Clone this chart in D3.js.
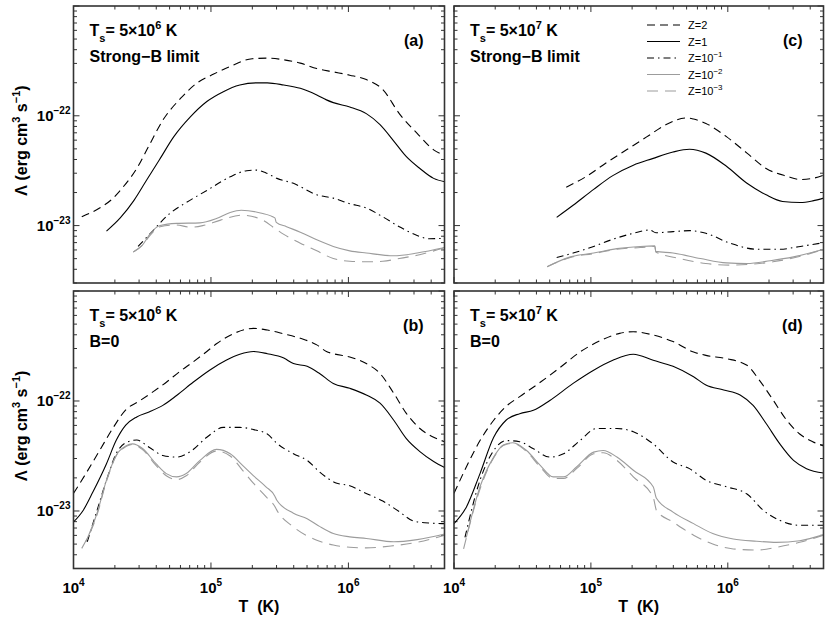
<!DOCTYPE html>
<html><head><meta charset="utf-8">
<script src="https://cdn.jsdelivr.net/npm/d3@7"></script>
<style>
body{margin:0;background:#fff}
svg{display:block}
text{font-family:"Liberation Sans",Arial,Helvetica,sans-serif}
</style>
</head><body>
<svg id="chart" width="830" height="619"></svg>
<script>
// ---- data: pairs of [log10 T (K), log10 Lambda (erg cm^3 s^-1)] ----
// Panel (a): Ts = 5e6 K, strong-B limit
const a_Z2 = [[4.06,-22.92],[4.19,-22.84],[4.28,-22.76],[4.36,-22.65],[4.46,-22.48],[4.55,-22.27],[4.65,-22.04],[4.78,-21.84],[4.90,-21.70],[5.02,-21.62],[5.14,-21.55],[5.30,-21.48],[5.41,-21.475],[5.53,-21.49],[5.65,-21.52],[5.77,-21.57],[5.89,-21.60],[6.01,-21.63],[6.13,-21.67],[6.25,-21.76],[6.37,-21.98],[6.50,-22.16],[6.62,-22.31],[6.70,-22.36]];
const a_Z1 = [[4.24,-23.05],[4.34,-22.93],[4.44,-22.77],[4.53,-22.59],[4.63,-22.39],[4.73,-22.19],[4.85,-22.01],[4.97,-21.87],[5.09,-21.78],[5.21,-21.72],[5.33,-21.70],[5.41,-21.70],[5.53,-21.72],[5.65,-21.75],[5.77,-21.81],[5.84,-21.855],[5.89,-21.88],[6.01,-21.92],[6.13,-21.98],[6.23,-22.08],[6.33,-22.23],[6.42,-22.37],[6.52,-22.48],[6.62,-22.57],[6.70,-22.60]];
const a_Z1e1 = [[4.47,-23.19],[4.56,-23.07],[4.70,-22.89],[4.82,-22.79],[4.97,-22.68],[5.14,-22.555],[5.26,-22.50],[5.33,-22.495],[5.40,-22.52],[5.48,-22.57],[5.60,-22.615],[5.77,-22.72],[5.89,-22.75],[6.01,-22.80],[6.13,-22.84],[6.25,-22.92],[6.37,-23.01],[6.50,-23.09],[6.59,-23.12],[6.70,-23.115]];
const a_Z1e2 = [[4.435,-23.24],[4.50,-23.18],[4.56,-23.07],[4.63,-23.00],[4.75,-22.98],[4.92,-22.975],[5.04,-22.935],[5.14,-22.88],[5.22,-22.86],[5.36,-22.885],[5.465,-22.93],[5.475,-22.97],[5.55,-23.01],[5.65,-23.06],[5.77,-23.13],[5.89,-23.19],[6.01,-23.23],[6.13,-23.25],[6.33,-23.275],[6.50,-23.25],[6.70,-23.20]];
const a_Z1e3 = [[4.435,-23.24],[4.50,-23.18],[4.56,-23.085],[4.63,-23.01],[4.75,-22.995],[4.85,-23.015],[4.94,-23.0],[5.07,-22.95],[5.22,-22.905],[5.36,-22.94],[5.47,-23.03],[5.53,-23.08],[5.65,-23.16],[5.77,-23.23],[5.89,-23.30],[6.01,-23.325],[6.13,-23.33],[6.25,-23.325],[6.37,-23.30],[6.50,-23.27],[6.70,-23.20]];
// Panel (b): Ts = 5e6 K, B = 0
const b_Z2 = [[4.00,-22.84],[4.09,-22.66],[4.19,-22.45],[4.29,-22.24],[4.38,-22.08],[4.48,-22.0],[4.58,-21.915],[4.68,-21.825],[4.77,-21.735],[4.87,-21.645],[4.97,-21.55],[5.04,-21.48],[5.16,-21.39],[5.31,-21.34],[5.41,-21.355],[5.53,-21.39],[5.65,-21.43],[5.77,-21.49],[5.84,-21.55],[5.89,-21.57],[6.01,-21.60],[6.13,-21.66],[6.23,-21.75],[6.33,-21.93],[6.42,-22.11],[6.52,-22.25],[6.62,-22.33],[6.70,-22.37]];
const b_Z1 = [[4.00,-23.10],[4.07,-22.995],[4.14,-22.83],[4.24,-22.57],[4.31,-22.36],[4.38,-22.22],[4.46,-22.145],[4.55,-22.10],[4.65,-22.04],[4.75,-21.95],[4.87,-21.83],[4.99,-21.72],[5.11,-21.63],[5.21,-21.575],[5.31,-21.55],[5.41,-21.57],[5.53,-21.61],[5.60,-21.66],[5.70,-21.685],[5.79,-21.75],[5.89,-21.84],[6.01,-21.885],[6.13,-21.945],[6.23,-22.02],[6.33,-22.175],[6.42,-22.34],[6.52,-22.46],[6.62,-22.55],[6.70,-22.605]];
const b_Z1e1 = [[4.10,-23.28],[4.17,-23.0],[4.24,-22.72],[4.31,-22.48],[4.38,-22.38],[4.46,-22.355],[4.55,-22.42],[4.65,-22.495],[4.75,-22.51],[4.85,-22.46],[4.97,-22.33],[5.09,-22.24],[5.21,-22.24],[5.31,-22.26],[5.41,-22.30],[5.48,-22.385],[5.60,-22.48],[5.70,-22.54],[5.79,-22.645],[5.91,-22.745],[6.01,-22.77],[6.11,-22.83],[6.25,-22.91],[6.375,-23.01],[6.47,-23.09],[6.59,-23.11],[6.70,-23.115]];
const b_Z1e2 = [[4.09,-23.28],[4.17,-23.025],[4.24,-22.72],[4.31,-22.495],[4.38,-22.41],[4.43,-22.39],[4.50,-22.43],[4.60,-22.57],[4.675,-22.66],[4.75,-22.69],[4.82,-22.66],[4.92,-22.54],[5.04,-22.44],[5.14,-22.48],[5.23,-22.585],[5.31,-22.68],[5.40,-22.78],[5.465,-22.865],[5.478,-22.90],[5.60,-23.02],[5.70,-23.07],[5.79,-23.14],[5.89,-23.205],[6.01,-23.235],[6.13,-23.25],[6.33,-23.28],[6.50,-23.26],[6.70,-23.21]];
const b_Z1e3 = [[4.06,-23.34],[4.17,-23.04],[4.24,-22.73],[4.31,-22.50],[4.38,-22.415],[4.43,-22.395],[4.50,-22.44],[4.60,-22.585],[4.675,-22.68],[4.75,-22.715],[4.82,-22.68],[4.92,-22.555],[5.04,-22.455],[5.14,-22.50],[5.23,-22.63],[5.31,-22.75],[5.40,-22.87],[5.465,-22.96],[5.478,-22.99],[5.60,-23.145],[5.77,-23.265],[5.89,-23.31],[6.01,-23.33],[6.13,-23.335],[6.33,-23.315],[6.50,-23.285],[6.70,-23.22]];
// Panel (c): Ts = 5e7 K, strong-B limit
const c_Z2 = [[4.82,-22.65],[4.97,-22.55],[5.11,-22.43],[5.26,-22.31],[5.41,-22.19],[5.55,-22.08],[5.70,-22.02],[5.75,-22.03],[5.84,-22.07],[5.99,-22.19],[6.14,-22.34],[6.28,-22.48],[6.43,-22.55],[6.53,-22.58],[6.62,-22.57],[6.70,-22.54]];
const c_Z1 = [[4.75,-22.925],[4.87,-22.815],[5.02,-22.67],[5.16,-22.545],[5.31,-22.45],[5.45,-22.39],[5.60,-22.33],[5.72,-22.305],[5.84,-22.34],[5.99,-22.46],[6.14,-22.615],[6.28,-22.72],[6.40,-22.78],[6.53,-22.79],[6.62,-22.775],[6.70,-22.75]];
const c_Z1e1 = [[4.75,-23.29],[4.87,-23.25],[5.02,-23.19],[5.16,-23.125],[5.31,-23.07],[5.43,-23.04],[5.475,-23.065],[5.60,-23.055],[5.72,-23.046],[5.84,-23.07],[6.015,-23.16],[6.21,-23.215],[6.38,-23.215],[6.53,-23.19],[6.70,-23.155]];
const c_Z1e2 = [[4.68,-23.375],[4.85,-23.285],[5.02,-23.25],[5.19,-23.21],[5.36,-23.19],[5.467,-23.185],[5.474,-23.235],[5.60,-23.25],[5.80,-23.30],[5.99,-23.34],[6.14,-23.345],[6.31,-23.32],[6.48,-23.285],[6.70,-23.215]];
const c_Z1e3 = [[4.68,-23.375],[4.85,-23.29],[5.02,-23.255],[5.19,-23.215],[5.36,-23.20],[5.467,-23.19],[5.474,-23.24],[5.65,-23.30],[5.84,-23.345],[6.015,-23.36],[6.185,-23.35],[6.33,-23.33],[6.53,-23.28],[6.70,-23.215]];
// Panel (d): Ts = 5e7 K, B = 0
const d_Z2 = [[4.00,-22.84],[4.09,-22.60],[4.19,-22.36],[4.29,-22.175],[4.38,-22.05],[4.48,-21.96],[4.63,-21.83],[4.77,-21.70],[4.92,-21.555],[5.07,-21.45],[5.21,-21.385],[5.31,-21.37],[5.455,-21.40],[5.60,-21.46],[5.75,-21.555],[5.84,-21.585],[5.99,-21.615],[6.14,-21.675],[6.23,-21.81],[6.33,-21.99],[6.43,-22.175],[6.525,-22.30],[6.62,-22.37],[6.70,-22.41]];
const d_Z1 = [[4.00,-23.115],[4.09,-22.965],[4.19,-22.66],[4.29,-22.33],[4.38,-22.175],[4.48,-22.115],[4.58,-22.085],[4.70,-21.995],[4.87,-21.84],[5.02,-21.72],[5.16,-21.63],[5.31,-21.575],[5.455,-21.63],[5.60,-21.685],[5.75,-21.78],[5.84,-21.855],[5.97,-21.90],[6.09,-21.945],[6.185,-22.04],[6.28,-22.205],[6.38,-22.39],[6.48,-22.54],[6.575,-22.615],[6.70,-22.655]];
const d_Z1e1 = [[4.08,-23.24],[4.19,-22.72],[4.29,-22.45],[4.38,-22.36],[4.48,-22.37],[4.58,-22.435],[4.70,-22.51],[4.80,-22.48],[4.92,-22.36],[5.04,-22.25],[5.19,-22.25],[5.31,-22.28],[5.455,-22.39],[5.60,-22.555],[5.72,-22.615],[5.84,-22.72],[5.99,-22.78],[6.14,-22.845],[6.26,-22.995],[6.38,-23.085],[6.525,-23.13],[6.70,-23.13]];
const d_Z1e2 = [[4.09,-23.24],[4.19,-22.78],[4.29,-22.51],[4.36,-22.40],[4.43,-22.38],[4.53,-22.45],[4.63,-22.585],[4.725,-22.69],[4.80,-22.69],[4.895,-22.60],[5.02,-22.465],[5.09,-22.45],[5.19,-22.51],[5.31,-22.63],[5.455,-22.78],[5.479,-22.885],[5.60,-23.01],[5.75,-23.115],[5.89,-23.205],[6.04,-23.255],[6.21,-23.275],[6.355,-23.285],[6.525,-23.27],[6.70,-23.215]];
const d_Z1e3 = [[4.07,-23.345],[4.19,-22.80],[4.29,-22.515],[4.36,-22.405],[4.43,-22.385],[4.53,-22.46],[4.63,-22.60],[4.725,-22.705],[4.80,-22.705],[4.895,-22.615],[5.02,-22.48],[5.09,-22.47],[5.19,-22.54],[5.31,-22.69],[5.455,-22.875],[5.479,-22.995],[5.60,-23.10],[5.75,-23.22],[5.89,-23.30],[6.04,-23.345],[6.21,-23.355],[6.355,-23.33],[6.525,-23.285],[6.70,-23.22]];

// ---- labels ----
const seriesBase = ["Z=2","Z=1","Z=10","Z=10","Z=10"];
const seriesSup  = ["","","−1","−2","−3"];
const xTickExponents = [4,5,6];
const yTickExponents = [-22,-23];
const panelLetters = ["(a)","(b)","(c)","(d)"];
const panelTsExp = ["6","6","7","7"];
const panelCase = ["Strong−B limit","B=0","Strong−B limit","B=0"];
const xDomain = [1e4, 5e6];
const yDomain = [3e-24, 1e-21];

const panelSeries = [
  [a_Z2,a_Z1,a_Z1e1,a_Z1e2,a_Z1e3],
  [b_Z2,b_Z1,b_Z1e1,b_Z1e2,b_Z1e3],
  [c_Z2,c_Z1,c_Z1e1,c_Z1e2,c_Z1e3],
  [d_Z2,d_Z1,d_Z1e1,d_Z1e2,d_Z1e3]
];

// ---- styling / layout ----
const seriesStyle = [
  {stroke:"#000", dash:"8,5"},
  {stroke:"#000", dash:null},
  {stroke:"#000", dash:"7,4,1.5,4"},
  {stroke:"#9c9c9c", dash:null},
  {stroke:"#9c9c9c", dash:"11,7"}
];
const layout = [
  {x0:73.5, x1:444.5, y0:6,   y1:283,   left:true,  bottom:false},
  {x0:73.5, x1:444.5, y0:291, y1:568.5, left:true,  bottom:true},
  {x0:454,  x1:823.5, y0:6,   y1:283,   left:false, bottom:false},
  {x0:454,  x1:823.5, y0:291, y1:568.5, left:false, bottom:true}
];
const FONT_MAIN = 16, FONT_TICK = 15, FONT_SUP = 10;

const svg = d3.select("#chart");
const frameColor = "#333";

layout.forEach((L, pi) => {
  const x = d3.scaleLog().domain(xDomain).range([L.x0, L.x1]);
  const y = d3.scaleLog().domain(yDomain).range([L.y1, L.y0]);
  const g = svg.append("g");

  const clipId = "clip" + pi;
  svg.append("clipPath").attr("id", clipId).append("rect")
    .attr("x", L.x0).attr("y", L.y0).attr("width", L.x1 - L.x0).attr("height", L.y1 - L.y0);

  // ticks
  const isMajor = t => Math.abs(Math.log10(t) - Math.round(Math.log10(t))) < 1e-6;
  const tg = g.append("g").attr("stroke", frameColor).attr("stroke-width", 1);
  x.ticks().forEach(t => {
    const len = isMajor(t) ? 6 : 3.5;
    const px = x(t);
    tg.append("line").attr("x1", px).attr("x2", px).attr("y1", L.y1).attr("y2", L.y1 - len);
    tg.append("line").attr("x1", px).attr("x2", px).attr("y1", L.y0).attr("y2", L.y0 + len);
  });
  y.ticks().forEach(t => {
    const len = isMajor(t) ? 6 : 3.5;
    const py = y(t);
    tg.append("line").attr("y1", py).attr("y2", py).attr("x1", L.x0).attr("x2", L.x0 + len);
    tg.append("line").attr("y1", py).attr("y2", py).attr("x1", L.x1).attr("x2", L.x1 - len);
  });

  // curves
  const line = d3.line()
    .x(d => x(Math.pow(10, d[0])))
    .y(d => y(Math.pow(10, d[1])))
    .curve(d3.curveMonotoneX);
  const cg = g.append("g").attr("clip-path", `url(#${clipId})`);
  panelSeries[pi].forEach((s, si) => {
    const st = seriesStyle[si];
    cg.append("path").datum(s)
      .attr("d", line)
      .attr("fill", "none")
      .attr("stroke", st.stroke)
      .attr("stroke-width", 1.1)
      .attr("stroke-dasharray", st.dash);
  });

  // frame
  g.append("rect").attr("x", L.x0).attr("y", L.y0)
    .attr("width", L.x1 - L.x0).attr("height", L.y1 - L.y0)
    .attr("fill", "none").attr("stroke", frameColor).attr("stroke-width", 1.6);

  // tick labels
  if (L.bottom) {
    xTickExponents.forEach(e => {
      const t = g.append("text").attr("x", x(Math.pow(10, e))).attr("y", L.y1 + 24.5)
        .attr("text-anchor", "middle").attr("font-weight", "bold").attr("font-size", FONT_TICK);
      t.append("tspan").text("10");
      t.append("tspan").attr("dy", -7).attr("font-size", FONT_SUP).text(String(e));
    });
    g.append("text").attr("x", (L.x0 + L.x1) / 2).attr("y", 612)
      .attr("text-anchor", "middle").attr("font-weight", "bold").attr("font-size", FONT_MAIN)
      .text("T\u00a0\u00a0(K)");
  }
  if (L.left) {
    yTickExponents.forEach(e => {
      const t = g.append("text").attr("x", L.x0 - 3).attr("y", y(Math.pow(10, e)) + 5)
        .attr("text-anchor", "end").attr("font-weight", "bold").attr("font-size", FONT_TICK);
      t.append("tspan").text("10");
      t.append("tspan").attr("dy", -7).attr("font-size", FONT_SUP).text(String(e).replace("-", "−"));
    });
    const yt = g.append("text")
      .attr("transform", `translate(27,${(L.y0 + L.y1) / 2 - 4}) rotate(-90)`)
      .attr("text-anchor", "middle").attr("font-weight", "bold").attr("font-size", FONT_MAIN);
    yt.append("tspan").text("Λ (erg cm");
    yt.append("tspan").attr("dy", -7).attr("font-size", FONT_SUP + 1).text("3");
    yt.append("tspan").attr("dy", 7).text(" s");
    yt.append("tspan").attr("dy", -7).attr("font-size", FONT_SUP + 1).text("−1");
    yt.append("tspan").attr("dy", 7).text(")");
  }

  // annotations
  const ts = g.append("text").attr("x", L.x0 + 16).attr("y", L.y0 + 30)
    .attr("font-weight", "bold").attr("font-size", FONT_MAIN);
  ts.append("tspan").text("T");
  ts.append("tspan").attr("dy", 6).attr("font-size", FONT_SUP + 1).text("s");
  ts.append("tspan").attr("dy", -6).text("=\u00a05×10");
  ts.append("tspan").attr("dy", -7).attr("font-size", FONT_SUP + 1).text(panelTsExp[pi]);
  ts.append("tspan").attr("dy", 7).text("\u00a0K");
  g.append("text").attr("x", L.x0 + 16).attr("y", L.y0 + 56)
    .attr("font-weight", "bold").attr("font-size", FONT_MAIN).text(panelCase[pi]);
  g.append("text").attr("x", L.x1 - 21).attr("y", L.y0 + 40).attr("text-anchor", "end")
    .attr("font-weight", "bold").attr("font-size", FONT_MAIN).text(panelLetters[pi]);

  // legend in panel (c)
  if (pi === 2) {
    const lg = g.append("g");
    seriesBase.forEach((name, si) => {
      const ry = L.y0 + 19 + si * 16.5;
      const st = seriesStyle[si];
      lg.append("line").attr("x1", L.x0 + 193).attr("x2", L.x0 + 226)
        .attr("y1", ry).attr("y2", ry)
        .attr("stroke", st.stroke).attr("stroke-width", 1.1).attr("stroke-dasharray", st.dash);
      const t = lg.append("text").attr("x", L.x0 + 234).attr("y", ry + 4)
        .attr("font-size", 11).attr("fill", "#000");
      t.append("tspan").text(name);
      if (seriesSup[si]) t.append("tspan").attr("dy", -5).attr("font-size", 8).text(seriesSup[si]);
    });
  }
});
</script>
</body></html>
